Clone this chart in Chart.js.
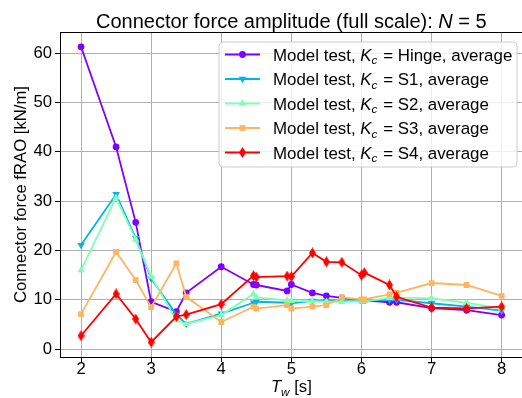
<!DOCTYPE html>
<html>
<head>
<meta charset="utf-8">
<script src="https://cdn.jsdelivr.net/npm/chart.js@4/dist/chart.umd.min.js"></script>
<style>
html, body { margin: 0; padding: 0; overflow: hidden; background: #fff; }
#wrap { width: 527px; height: 398px; }
</style>
</head>
<body>
<div id="wrap"><canvas id="forcechart"></canvas></div>
<script>
// wave periods T_w [s]
const periods = [2, 2.5, 2.78, 3, 3.36, 3.5, 4, 4.46, 4.5, 4.94, 5, 5.3, 5.5, 5.72, 6, 6.04, 6.4, 6.5, 7, 7.5, 8];
// connector force fRAO [kN/m], one list per connector stiffness
const forceHinge = [61.3, 41.0, 25.7, 9.6, 7.6, 11.4, 16.7, 13.1, 13.0, 11.8, 13.1, 11.4, 10.8, 10.4, 9.9, 9.9, 9.5, 9.5, 8.3, 7.9, 6.9];
const forceS1 = [21.1, 31.4, 22.5, 14.3, 7.0, 5.1, 7.2, 9.4, 9.6, 9.4, 9.3, 9.8, 9.8, 10.0, 9.9, 9.9, 10.0, 10.0, 9.3, 8.6, 7.8];
const forceS2 = [16.0, 30.7, 22.2, 14.7, 5.9, 5.1, 6.9, 11.2, 10.5, 9.9, 9.8, 9.7, 9.6, 9.6, 9.7, 9.7, 10.4, 10.5, 10.3, 9.4, 8.2];
const forceS3 = [7.1, 19.7, 14.0, 8.5, 17.4, 10.6, 5.5, 8.6, 8.2, 8.9, 8.2, 8.6, 8.9, 10.5, 10.1, 10.1, 11.1, 11.4, 13.4, 13.0, 10.8];
const forceS4 = [2.7, 11.2, 6.1, 1.4, 6.6, 7.0, 9.1, 14.9, 14.6, 14.8, 14.7, 19.5, 17.7, 17.6, 15.0, 15.5, 13.0, 10.6, 8.4, 8.25, 8.6];

const stiffnessNames = ['Hinge', 'S1', 'S2', 'S3', 'S4'];
const xTicks = [2, 3, 4, 5, 6, 7, 8];
const yTicks = [0, 10, 20, 30, 40, 50, 60];

const FONT = 'Liberation Sans, Arial, Helvetica, sans-serif';
const BASE = 16.7;
const LEGEND_SIZE = 16.9;

// thin diamond marker (matplotlib 'd')
function thinDiamond(color) {
    const c = document.createElement('canvas');
    c.width = 7; c.height = 11;
    const g = c.getContext('2d');
    g.fillStyle = color;
    g.beginPath();
    g.moveTo(3.5, 0); g.lineTo(7, 5.5); g.lineTo(3.5, 11); g.lineTo(0, 5.5);
    g.closePath();
    g.fill();
    return c;
}

const colors = ['#8000ff', '#00b5eb', '#80ffb4', '#ffb462', '#ff0000'];
const markers = [
    { style: 'circle', radius: 3.4, rotation: 0 },
    { style: 'triangle', radius: 4.3, rotation: 180 },
    { style: 'triangle', radius: 4.3, rotation: 0 },
    { style: 'rect', radius: 4.1, rotation: 0 },
    { style: thinDiamond('#ff0000'), radius: 4, rotation: 0 }
];
const seriesValues = [forceHinge, forceS1, forceS2, forceS3, forceS4];

const datasets = seriesValues.map((vals, i) => ({
    label: 'Model test, Kc = ' + stiffnessNames[i] + ', average',
    data: periods.map((t, j) => ({ x: t, y: vals[j] })),
    borderColor: colors[i],
    backgroundColor: colors[i],
    borderWidth: 1.8,
    pointStyle: markers[i].style,
    pointRadius: markers[i].radius,
    pointRotation: markers[i].rotation,
    pointBorderWidth: 0,
    pointBackgroundColor: colors[i],
    tension: 0,
    order: 4 - i
}));

// draw text made of plain / italic / subscript pieces (gap = extra px after piece)
function drawRich(ctx, parts, x, y, size, align) {
    const fontOf = p => (p.italic ? 'italic ' : '') + (p.sub ? size * 0.7 : size) + 'px ' + FONT;
    const widths = parts.map(p => { ctx.font = fontOf(p); return ctx.measureText(p.t).width + (p.gap || 0); });
    const total = widths.reduce((a, b) => a + b, 0);
    let cx = align === 'center' ? x - total / 2 : x;
    ctx.textAlign = 'left';
    ctx.textBaseline = 'alphabetic';
    parts.forEach((p, i) => {
        ctx.font = fontOf(p);
        ctx.fillText(p.t, cx, y + (p.sub ? size * 0.22 : 0));
        cx += widths[i];
    });
}

const decorations = {
    id: 'decorations',
    afterDraw(chart) {
        const ctx = chart.ctx;
        const area = chart.chartArea;
        ctx.save();
        // frame
        ctx.strokeStyle = '#000';
        ctx.lineWidth = 1;
        ctx.strokeRect(Math.round(area.left) + 0.5, Math.round(area.top) + 0.5,
            Math.round(area.right - area.left), Math.round(area.bottom - area.top));

        ctx.fillStyle = '#000';
        // title
        drawRich(ctx, [
            { t: 'Connector force amplitude (full scale): ' },
            { t: 'N', italic: true },
            { t: ' = 5' }
        ], (area.left + area.right) / 2, 28, 20, 'center');

        // x label
        drawRich(ctx, [
            { t: 'T', italic: true },
            { t: 'w', italic: true, sub: true },
            { t: ' [s]' }
        ], (area.left + area.right) / 2, 392, BASE, 'center');

        // y label
        ctx.save();
        ctx.translate(21, (area.top + area.bottom) / 2);
        ctx.rotate(-Math.PI / 2);
        ctx.font = BASE + 'px ' + FONT;
        ctx.textAlign = 'center';
        ctx.textBaseline = 'middle';
        ctx.fillText('Connector force fRAO [kN/m]', 0, 0);
        ctx.restore();

        // legend
        const bx = 219, by = 42, bw = 298, bh = 125, r = 4;
        ctx.beginPath();
        ctx.moveTo(bx + r, by);
        ctx.arcTo(bx + bw, by, bx + bw, by + bh, r);
        ctx.arcTo(bx + bw, by + bh, bx, by + bh, r);
        ctx.arcTo(bx, by + bh, bx, by, r);
        ctx.arcTo(bx, by, bx + bw, by, r);
        ctx.closePath();
        ctx.fillStyle = 'rgba(255,255,255,0.8)';
        ctx.fill();
        ctx.strokeStyle = '#cccccc';
        ctx.lineWidth = 1;
        ctx.stroke();

        stiffnessNames.forEach((name, i) => {
            const cy = 54.5 + i * 24.5;
            ctx.strokeStyle = colors[i];
            ctx.fillStyle = colors[i];
            ctx.lineWidth = 1.8;
            ctx.beginPath();
            ctx.moveTo(225, cy);
            ctx.lineTo(260, cy);
            ctx.stroke();
            Chart.helpers.drawPoint(ctx, {
                pointStyle: markers[i].style,
                radius: markers[i].radius,
                rotation: markers[i].rotation,
                borderWidth: 0
            }, 242.5, cy);
            ctx.fillStyle = '#000';
            drawRich(ctx, [
                { t: 'Model test, ' },
                { t: 'K', italic: true },
                { t: 'c', italic: true, sub: true, gap: 1 },
                { t: ' = ' },
                { t: name + ', average' }
            ], 273, cy + 6, LEGEND_SIZE, 'left');
        });
        ctx.restore();
    }
};

const tickFont = { family: FONT, size: BASE };

new Chart(document.getElementById('forcechart').getContext('2d'), {
    type: 'line',
    data: { datasets: datasets },
    options: {
        responsive: true,
        maintainAspectRatio: false,
        animation: false,
        layout: { padding: { top: 32, right: 1, left: 0, bottom: 0 } },
        plugins: { legend: { display: false }, tooltip: { enabled: false } },
        scales: {
            x: {
                type: 'linear',
                min: 1.7,
                max: 8.3,
                afterBuildTicks: s => { s.ticks = xTicks.map(v => ({ value: v })); },
                afterFit: s => { s.height = 41; },
                grid: { color: '#b0b0b0', lineWidth: 1, tickColor: '#000', tickLength: 5 },
                border: { color: '#000', width: 1 },
                ticks: { font: tickFont, color: '#000', padding: -3, maxRotation: 0 }
            },
            y: {
                min: -1.6,
                max: 64.3,
                afterBuildTicks: s => { s.ticks = yTicks.map(v => ({ value: v })); },
                afterFit: s => { s.width = 60; },
                grid: { color: '#b0b0b0', lineWidth: 1, tickColor: '#000', tickLength: 5 },
                border: { color: '#000', width: 1 },
                ticks: { font: tickFont, color: '#000', padding: 3 }
            }
        }
    },
    plugins: [decorations]
});
</script>
</body>
</html>
